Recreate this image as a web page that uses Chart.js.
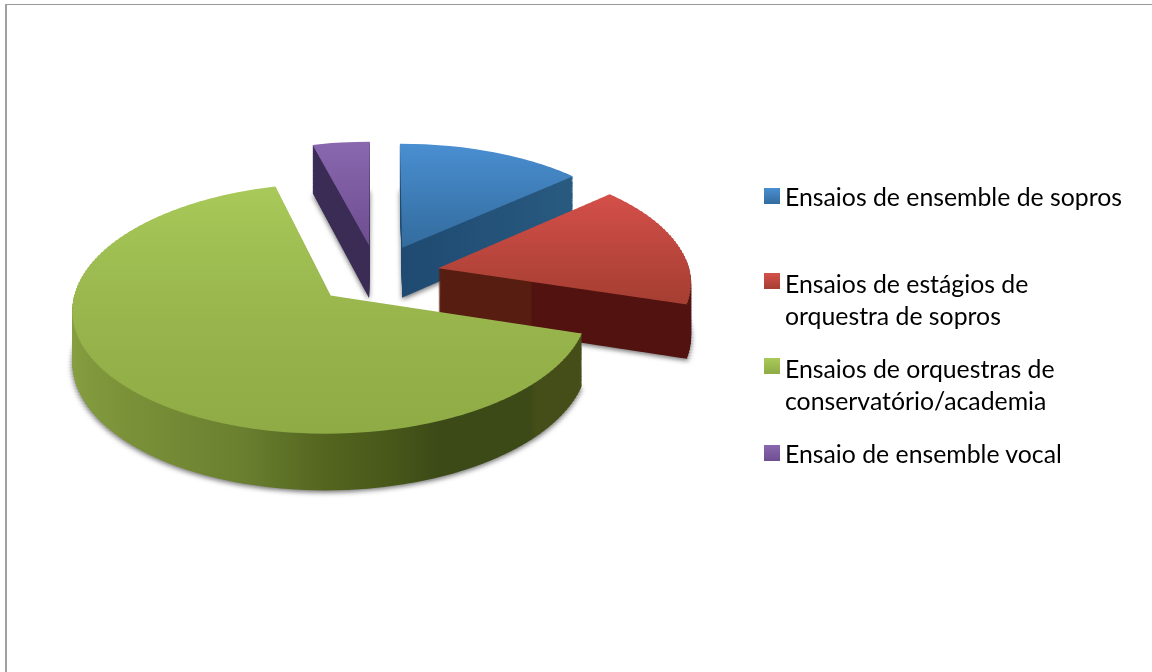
<!DOCTYPE html>
<html>
<head>
<meta charset="utf-8">
<script src="https://cdn.jsdelivr.net/npm/chart.js@4"></script>
<style>
    html, body { margin: 0; padding: 0; background: #fff; }
    #wrap { position: relative; width: 1152px; height: 672px; overflow: hidden; }
    #frame { position: absolute; left: 5px; top: 4px; width: 1147px; height: 668px; border-left: 2px solid #a0a0a0; border-top: 1px solid #999; box-sizing: border-box; }
    canvas { position: absolute; left: 0; top: 0; }
    .item { position: absolute; left: 785px; width: 340px; font: 24.8px/31.5px Lato, sans-serif; color: #000; }
    .swatch { position: absolute; left: -21px; width: 16px; height: 16px; }
</style>
</head>
<body>
<div id="wrap">
    <div id="frame"></div>
    <canvas id="pie" width="1152" height="672"></canvas>
    <div id="legend"></div>
</div>
<script>
const categories = [
    'Ensaios de ensemble de sopros',
    'Ensaios de estágios de orquestra de sopros',
    'Ensaios de orquestras de conservatório/academia',
    'Ensaio de ensemble vocal'
];
const shares = [13.4, 16.4, 66.1, 4.1];

// look of the slices
const baseColors = ['#4a8fd2', '#d5504a', '#a5c657', '#8a68b0'];
const topStops = [
    [[0, '#4a8fd2'], [0.5, '#336c9e']],
    [[0.16, '#d5504a'], [0.65, '#a53e32']],
    [[0, '#a9ca5a'], [0.5, '#9ab84e'], [1, '#8fab45']],
    [[0, '#8a68b0'], [0.5, '#6e4e90']]
];
const wallStops = [
    [[0.5, '#1f4a72'], [0.85, '#28597f']],
    [[0.5, '#561d10'], [0.68, '#561d10'], [0.685, '#52120f'], [1, '#52120f']],
    [[0, '#869f40'], [0.15, '#7a9038'], [0.35, '#6a8030'], [0.5, '#54651f'], [0.62, '#475719'],
     [0.7, '#3c4a17'], [0.87, '#3c4a17'], [0.88, '#454e18'], [0.97, '#454e18'], [0.98, '#445218'], [1, '#445218']],
    [[0, '#3a2c55'], [1, '#3a2c55']]
];
const legendTops = [181, 268, 353, 438];
const swatchOffsets = [7, 5, 5, 7];

// fake 3D: the flat pie is projected row by row, with a little perspective
const pieRadius = 252;
const pieCenterY = 274.5;
const pieTilt = 0.475;
const pieNear = 0.0004;
const explode = 63;
const depth = [51, 53, 50, 54];
const drawOrder = [3, 0, 1, 2];
const bandHeight = 3;

const makeGradient = (ctx, x0, y0, x1, y1, stops) => {
    const g = ctx.createLinearGradient(x0, y0, x1, y1);
    stops.forEach(([pos, color]) => g.addColorStop(pos, color));
    return g;
};

// v is the distance from the pie centre on the flat pie, d how far the layer is pushed down
const screenY = (v, d) => pieCenterY + (pieTilt * v + d) / (1 - pieNear * v);
const flatV = (y, d) => (y - pieCenterY - d) / (pieTilt + pieNear * (y - pieCenterY));

const drawProjected = (chart, arc, fill, d) => {
    const ctx = chart.ctx;
    const mid = (arc.startAngle + arc.endAngle) / 2;
    const shiftX = Math.cos(mid) * explode;
    const shiftY = Math.sin(mid) * explode;
    const r = arc.outerRadius;
    const firstRow = Math.floor(screenY(shiftY - r, d));
    const lastRow = Math.ceil(screenY(shiftY + r, d));
    const saved = arc.options;
    arc.options = Object.assign({}, saved, {backgroundColor: fill});
    for (let y = firstRow - 6; y < lastRow + 6; y += bandHeight) {
        const v0 = flatV(y, d);
        const v1 = flatV(y + bandHeight, d);
        ctx.save();
        ctx.beginPath();
        ctx.rect(0, y, chart.width, bandHeight);
        ctx.clip();
        ctx.translate(arc.x, y);
        ctx.scale(1 / (1 - pieNear * (v0 + v1) / 2), bandHeight / (v1 - v0));
        ctx.translate(shiftX - arc.x, shiftY - v0 - arc.y);
        arc.draw(ctx);
        ctx.restore();
    }
    arc.options = saved;
};

const pie3d = {
    id: 'pie3d',
    beforeDatasetsDraw(chart) {
        const ctx = chart.ctx;
        const arcs = chart.getDatasetMeta(0).data;
        drawOrder.forEach(i => {
            const arc = arcs[i];
            const r = arc.outerRadius;
            const wall = makeGradient(ctx, arc.x - r, 0, arc.x + r, 0, wallStops[i]);
            const top = makeGradient(ctx, 0, arc.y - r, 0, arc.y + r, topStops[i]);
            ctx.save();
            ctx.shadowColor = 'rgba(0,0,0,0.55)';
            ctx.shadowBlur = 5;
            ctx.shadowOffsetY = 2;
            drawProjected(chart, arc, wall, depth[i]);
            ctx.restore();
            for (let d = depth[i] - 1; d > 0; d--) {
                drawProjected(chart, arc, wall, d);
            }
            drawProjected(chart, arc, top, 0);
        });
        return false;
    }
};

new Chart(document.getElementById('pie').getContext('2d'), {
    type: 'pie',
    data: {
        labels: categories,
        datasets: [{
            data: shares,
            backgroundColor: baseColors,
            borderWidth: 0
        }]
    },
    options: {
        responsive: false,
        animation: false,
        events: [],
        radius: pieRadius,
        layout: {padding: {right: 398}},
        plugins: {
            legend: {display: false},
            tooltip: {enabled: false}
        }
    },
    plugins: [pie3d]
});

// legend sits at uneven heights in the original, so it is plain html
const legend = document.getElementById('legend');
categories.forEach((name, i) => {
    const item = document.createElement('div');
    item.className = 'item';
    item.style.top = legendTops[i] + 'px';
    item.textContent = name;
    const swatch = document.createElement('div');
    swatch.className = 'swatch';
    swatch.style.top = swatchOffsets[i] + 'px';
    const stops = topStops[i];
    swatch.style.background = 'linear-gradient(' + stops[0][1] + ',' + stops[stops.length - 1][1] + ')';
    item.appendChild(swatch);
    legend.appendChild(item);
});
</script>
</body>
</html>
